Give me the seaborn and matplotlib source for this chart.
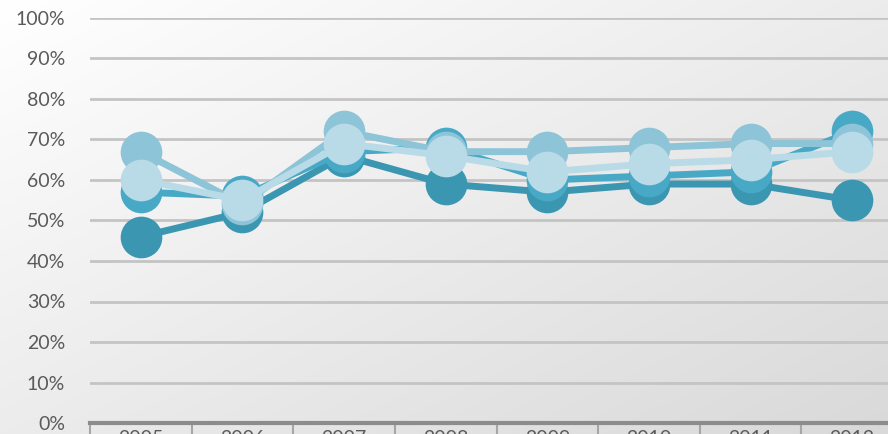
import numpy as np
import pandas as pd
import matplotlib
matplotlib.use("Agg")
import matplotlib.pyplot as plt
import seaborn as sns

years = ["2005", "2006", "2007", "2008", "2009", "2010", "2011", "2012"]
series_a = [46, 52, 66, 59, 57, 59, 59, 55]
series_b = [57, 56, 67, 68, 60, 61, 62, 72]
series_c = [67, 54, 72, 67, 67, 68, 69, 69]
series_d = [60, 55, 69, 66, 62, 64, 65, 67]
series_names = ["A", "B", "C", "D"]
colors = ["#3b96b1", "#48a9c7", "#8ec4d8", "#b9dbe7"]

rows = []
for name, vals in zip(series_names, [series_a, series_b, series_c, series_d]):
    for i, (y, v) in enumerate(zip(years, vals)):
        rows.append({"idx": i, "year": y, "value": v, "series": name})
df = pd.DataFrame(rows)

sns.set_theme(style="white")
plt.rcParams["font.family"] = ["Lato", "DejaVu Sans"]

fig = plt.figure(figsize=(8.88, 4.34), dpi=100)

# background gradient
bg = fig.add_axes([0, 0, 1, 1], zorder=-10)
xx, yy = np.meshgrid(np.linspace(0, 1, 300), np.linspace(0, 1, 150))
grad = 0.5 * xx + 0.5 * yy
bg.imshow(grad, cmap=matplotlib.colors.LinearSegmentedColormap.from_list("g", ["#ffffff", "#d9d9d9"]),
          aspect="auto", extent=[0, 1, 0, 1], origin="upper")
bg.axis("off")

ax = fig.add_axes([90 / 888, 11 / 434, 813 / 888, 405 / 434])
ax.patch.set_alpha(0)

sns.lineplot(data=df, x="idx", y="value", hue="series", hue_order=series_names,
             palette=colors, marker="o", markersize=30, markeredgewidth=0,
             linewidth=5, legend=False, ax=ax, zorder=3, clip_on=False)

ax.set_ylim(0, 100)
ax.set_xlim(-0.5, 7.5)
ax.set_yticks(range(0, 101, 10))
ax.set_yticklabels([f"{v}%" for v in range(0, 101, 10)], color="#5a5a5a", fontsize=14)
ax.yaxis.grid(True, color="#c4c4c4", linewidth=2)
ax.set_axisbelow(True)
ax.tick_params(axis="y", length=0, pad=18)

ax.set_xticks(np.arange(8))
ax.set_xticklabels(years, color="#5a5a5a", fontsize=14)
ax.set_xticks(np.arange(-0.5, 8, 1), minor=True)
ax.tick_params(axis="x", which="major", bottom=True, length=0, pad=5)
ax.tick_params(axis="x", which="minor", bottom=True, length=12, width=1.5, color="#a6a6a6", direction="out")

for s in ["top", "right", "left"]:
    ax.spines[s].set_visible(False)
ax.spines["bottom"].set_color("#8c8c8c")
ax.spines["bottom"].set_linewidth(3)
ax.set_xlabel("")
ax.set_ylabel("")

fig.savefig("out.png", dpi=100)
